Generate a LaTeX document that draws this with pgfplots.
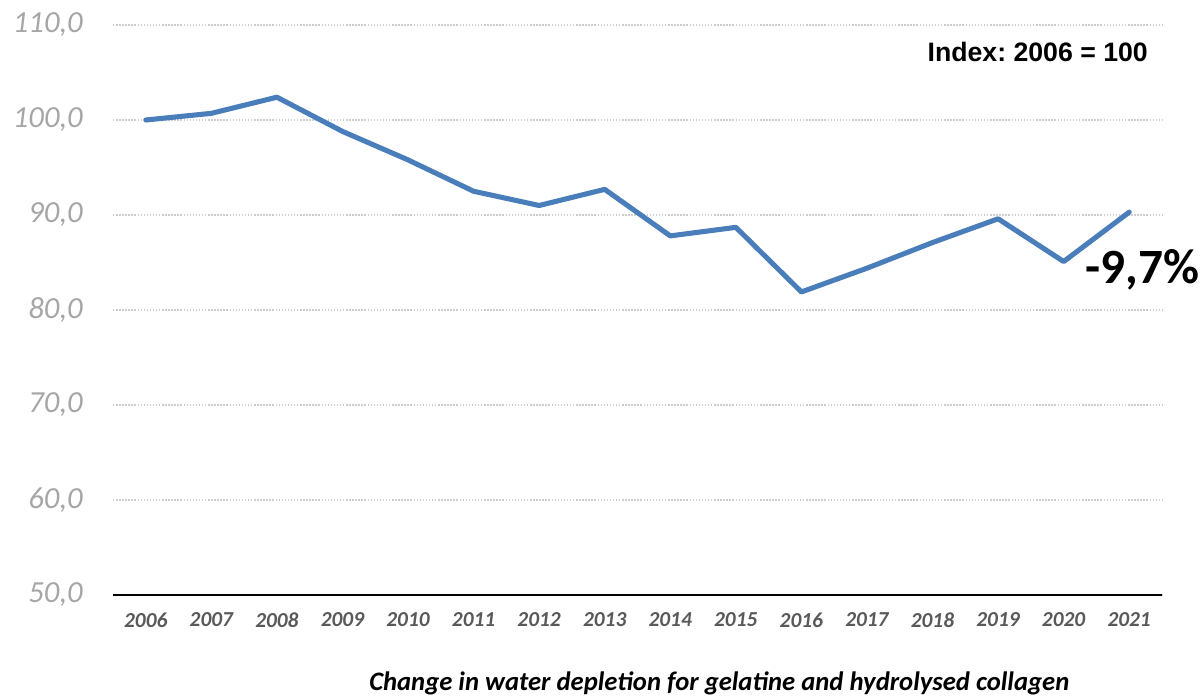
\documentclass[border=0pt]{standalone}
\usepackage{pgfplots}
\pgfplotsset{compat=1.18}
\usepackage{fontspec}
\setmainfont{Carlito}
\newfontfamily\arial{Liberation Sans}

\definecolor{lineblue}{RGB}{74,126,187}
\definecolor{ygray}{RGB}{166,166,166}
\definecolor{xgray}{RGB}{89,89,89}
\definecolor{gridgray}{RGB}{205,205,205}

\begin{document}
\frenchspacing
\begin{tikzpicture}
    % fix the page to the reference size (1 px = 0.75pt)
    \useasboundingbox (-84.75pt,-75pt) rectangle (816pt,446.25pt);
    \begin{axis}[
        at={(0,0)}, anchor=south west,
        scale only axis,
        width=786.75pt, height=427.5pt,
        xmin=2005.5, xmax=2021.5,
        ymin=50, ymax=110,
        xtick={2006,2007,...,2021},
        ytick={50,60,...,110},
        xticklabel={\pgfmathprintnumber[fixed, precision=0, 1000 sep={}, assume math mode=true]{\tick}},
        yticklabel={\pgfmathprintnumber[fixed, fixed zerofill, precision=1, use comma, assume math mode=true]{\tick}},
        major tick length=0pt,
        axis x line*=bottom,
        axis y line*=left,
        x axis line style={black, line width=1.5pt, -},
        y axis line style={draw=none},
        ymajorgrids=true,
        major grid style={gridgray, line width=1.1pt, dash pattern=on 1.1pt off 1.2pt},
        yticklabel style={font=\fontsize{23}{23}\selectfont\itshape, color=ygray, inner sep=0pt, xshift=-22.5pt},
        xticklabel style={font=\fontsize{16}{16}\selectfont\bfseries\itshape, color=xgray, inner sep=0pt, anchor=north, yshift=-13pt},
        clip=false,
    ]
    \addplot[lineblue, line width=3.8pt, line join=round, line cap=round] coordinates {
        (2006,100.0) (2007,100.7) (2008,102.4) (2009,98.8) (2010,95.8)
        (2011,92.5) (2012,91.0) (2013,92.7) (2014,87.8) (2015,88.7)
        (2016,81.9) (2017,84.4) (2018,87.1) (2019,89.6) (2020,85.1)
        (2021,90.3)
    };
    \node[anchor=base east, inner sep=0pt, font=\arial\fontsize{20}{20}\selectfont\bfseries]
        at (rel axis cs:0.9867,0.9368) {Index: 2006 = 100};
    \node[anchor=base west, inner sep=0pt, font=\fontsize{37}{37}\selectfont\bfseries]
        at (rel axis cs:0.9266,0.547) {-9,7\%};
    \node[anchor=base, inner sep=0pt, yshift=-71.25pt, font=\fontsize{20}{20}\selectfont\bfseries\itshape]
        at (rel axis cs:0.578,0) {Change in water depletion for gelatine and hydrolysed collagen};
    \end{axis}
\end{tikzpicture}
\end{document}
